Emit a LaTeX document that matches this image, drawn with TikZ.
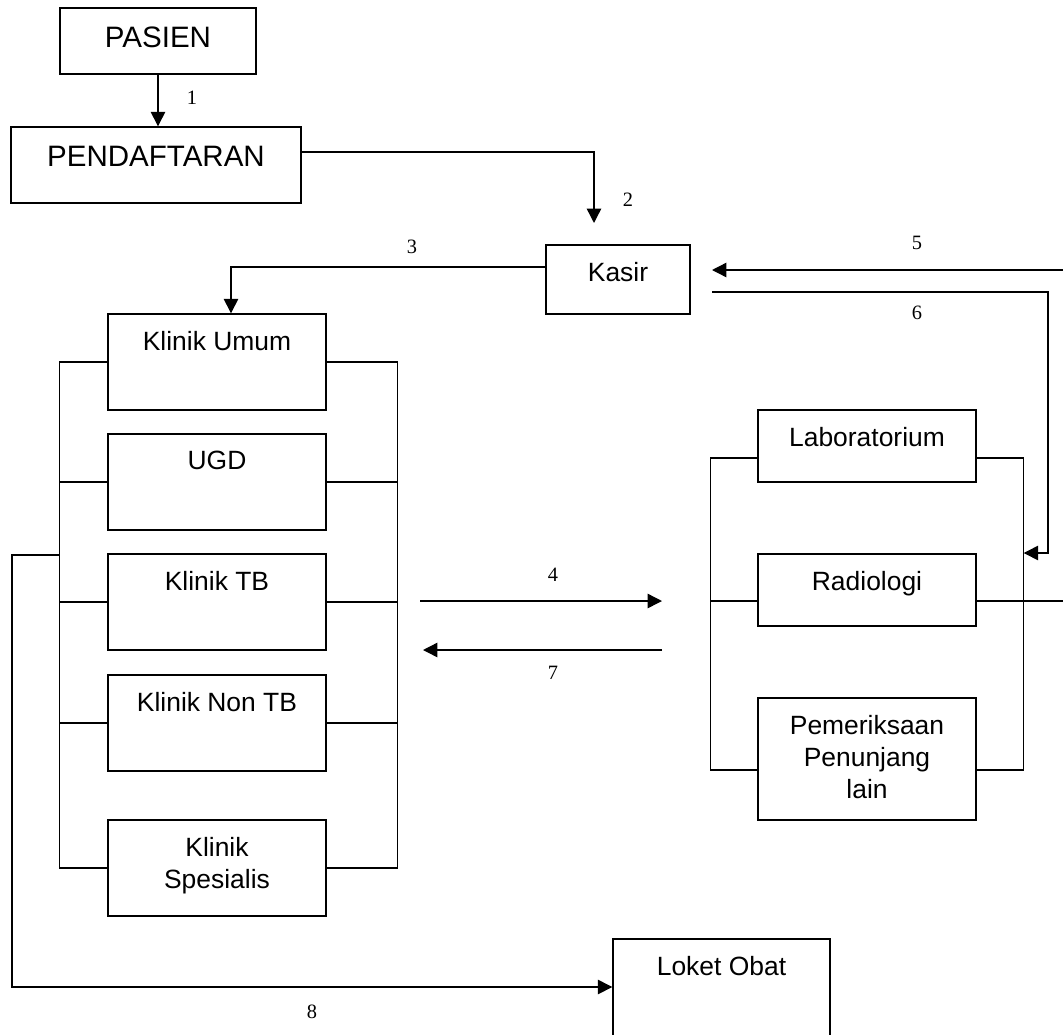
\documentclass[tikz,border=0pt]{standalone}
\usepackage{fontspec}
\setmainfont{Liberation Serif}
\setsansfont{Liberation Sans}
\usetikzlibrary{positioning,calc,arrows.meta}

\tikzset{
  unitbox/.style={draw, line width=1pt, inner sep=0pt},
  klinik/.style={unitbox, minimum width=54.5mm, minimum height=24mm},
  penunjang/.style={unitbox, minimum width=54.5mm, minimum height=18mm},
  boxtext/.style={inner sep=0pt, anchor=north, align=center,
                  font=\sffamily\fontsize{18.8}{22.8}\selectfont},
  bigtext/.style={boxtext, font=\sffamily\fontsize{21}{25}\selectfont},
  flownum/.style={inner sep=0pt, font=\fontsize{14.5}{17}\selectfont},
  flow/.style={line width=1pt, -{Triangle[length=3.6mm,width=3.6mm]}},
  bus/.style={line width=1pt},
}

\begin{document}
\begin{tikzpicture}[x=0.25mm,y=-0.25mm]
\useasboundingbox (0,0) rectangle (1063,1034);
\clip (0,0) rectangle (1063,1034);

% boxes
\node[unitbox, minimum width=49mm, minimum height=16.5mm]   (pasien) at (158,41)    {};
\node[unitbox, minimum width=72.5mm, minimum height=19mm]   (daftar) at (156,165)   {};
\node[unitbox, minimum width=36mm, minimum height=17.25mm]  (kasir)  at (618,279.5) {};

\node[klinik] (umum)  at (217,362) {};
\node[klinik] (ugd)   at (217,482) {};
\node[klinik] (tb)    at (217,602) {};
\node[klinik] (nontb) at (217,723) {};
\node[klinik] (spes)  at (217,868) {};

\node[penunjang] (lab)   at (867,446) {};
\node[penunjang] (radio) at (867,590) {};
\node[penunjang, minimum height=30.5mm] (lain) at (867,759) {};

\node[unitbox, minimum width=54.25mm, minimum height=30.5mm] (loket) at (721.5,1000) {};

% texts
\node[bigtext, below=4.75mm of pasien.north] (pasienT) {PASIEN};
\node[bigtext, below=5mm of daftar.north]    (daftarT) {PENDAFTARAN};
\foreach \b/\t in {kasir/Kasir, umum/Klinik Umum, ugd/UGD, tb/Klinik TB,
                   nontb/Klinik Non TB, spes/{Klinik\\Spesialis},
                   lab/Laboratorium, radio/Radiologi,
                   lain/{Pemeriksaan\\Penunjang\\lain}, loket/Loket Obat}
  \node[boxtext, below=4.4mm of \b.north] (\b T) {\t};

% klinik bus
\draw[bus] (umum.west) -- ++(-48,0) coordinate (lbus) |- (spes.west);
\draw[bus] (umum.east) -- ++(71,0)  coordinate (rbus) |- (spes.east);
\foreach \b in {ugd,tb,nontb}
  \draw[bus] (\b.west) -- (\b.west -| lbus) (\b.east) -- (\b.east -| rbus);

% penunjang bus
\coordinate (edgeR) at (1070,601);
\draw[bus] ($(lab.west)+(0,12)$) -- ++(-47,0) coordinate (plbus) |- ($(lain.west)+(0,11)$);
\draw[bus] ($(lab.east)+(0,12)$) -- ++(47,0)  coordinate (prbus) |- ($(lain.east)+(0,11)$);
\draw[bus] ($(radio.west)+(0,11)$) -- ++(-47,0);
\draw[bus] ($(radio.east)+(0,11)$) -- (edgeR);

% flows
\coordinate (k2)    at (594,223);
\coordinate (in5)   at (1070,270);
\coordinate (out5)  at (712,270);
\coordinate (out6)  at (712,292);
\coordinate (turn6) at (1048,553);
\coordinate (a4)    at (420,601);
\coordinate (b4)    at (662,601);
\coordinate (a7)    at (662,650);
\coordinate (b7)    at (423,650);
\coordinate (turn8) at (12,555);

\draw[flow] (pasien.south) -- (pasien.south |- daftar.north);
\draw[flow] ($(daftar.east)+(0,-13)$) -| (k2);
\draw[flow] ($(kasir.west)+(0,-12.5)$) -| ($(umum.north)+(14,0)$);
\draw[flow] (in5) -- (out5);
\draw[flow] (out6) -| (turn6) -- (prbus |- turn6);
\draw[flow] (a4) -- (b4);
\draw[flow] (a7) -- (b7);
\draw[flow] (lbus |- turn8) -- (turn8) |- ($(loket.west)+(0,-13)$);

% numbers
\node[flownum] (n1) at (192,98)   {1};
\node[flownum] (n2) at (628,200)  {2};
\node[flownum] (n3) at (412,247)  {3};
\node[flownum] (n4) at (553,575)  {4};
\node[flownum] (n5) at (917,243)  {5};
\node[flownum] (n6) at (917,313)  {6};
\node[flownum] (n7) at (553,673)  {7};
\node[flownum] (n8) at (312,1012) {8};
\end{tikzpicture}
\end{document}
